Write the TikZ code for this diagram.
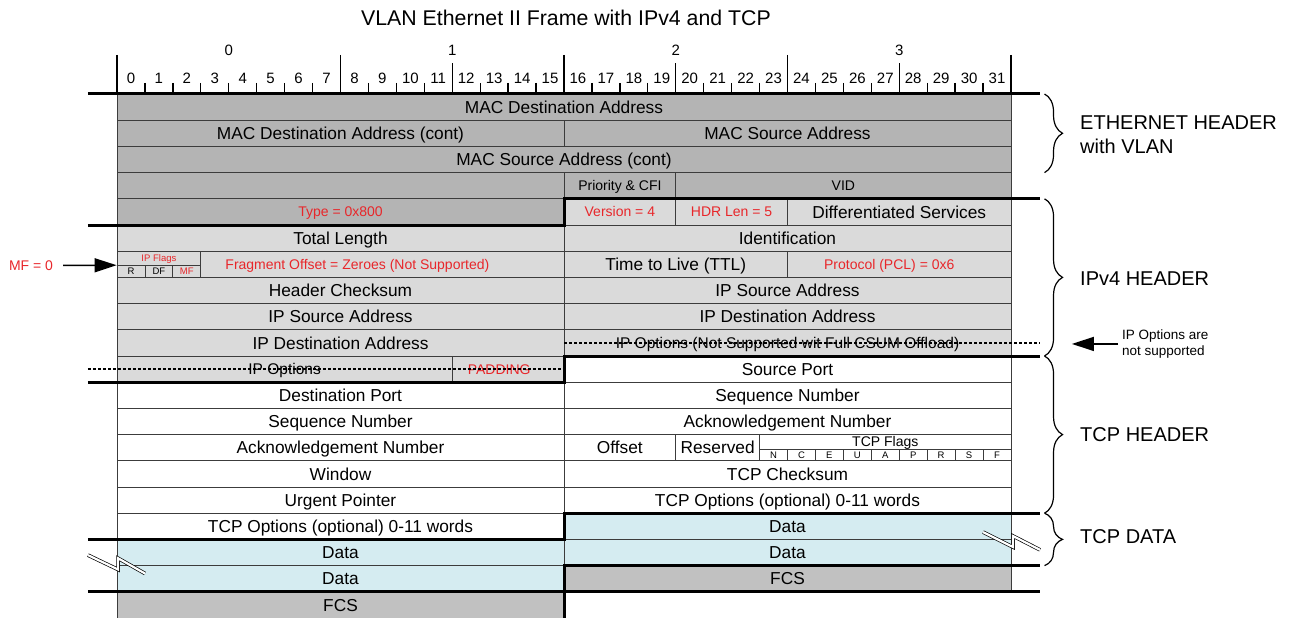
\documentclass[tikz,border=0pt]{standalone}
\usepackage{fontspec}
\setmainfont{Liberation Sans}
\usetikzlibrary{arrows.meta,decorations.pathreplacing}

\definecolor{ethgray}{RGB}{180,180,180}
\definecolor{ipgray}{RGB}{218,218,218}
\definecolor{fcsgray}{RGB}{193,193,193}
\definecolor{datablue}{RGB}{213,236,241}
\definecolor{fieldred}{RGB}{232,38,42}
\definecolor{cellline}{RGB}{60,60,60}

\tikzset{
    field/.style={draw=cellline, line width=0.8pt, rectangle, inner sep=0pt, minimum height=26.2pt, text height=12.4pt, text depth=0pt, font=\fontsize{17.3}{19}\selectfont},
    bits/.style={minimum width=#1*27.9375pt},
    eth/.style={field, fill=ethgray},
    ip/.style={field, fill=ipgray},
    tcp/.style={field, fill=white},
    data/.style={field, fill=datablue},
    fcs/.style={field, fill=fcsgray},
    midtxt/.style={font=\fontsize{15.5}{18}\selectfont, text height=11.1pt},
    smalltxt/.style={font=\fontsize{14}{16}\selectfont, text height=10pt, text depth=0pt},
    redtxt/.style={smalltxt, text=fieldred},
    flagtxt/.style={font=\fontsize{9.5}{10}\selectfont, text height=6.8pt},
    notetxt/.style={font=\fontsize{13.5}{15.5}\selectfont, align=left},
    bitnum/.style={font=\fontsize{15}{17}\selectfont, inner sep=0pt},
    tick/.style={line width=1.3pt},
    sep/.style={line width=3pt},
    opt/.style={line width=1.8pt, dash pattern=on 3pt off 2pt},
    brk/.style={draw=black, line width=0.7pt, double=white, double distance=2.2pt},
    hdrbrace/.style={decorate, decoration={brace, amplitude=18pt}, line width=1.2pt},
    sect/.style={font=\fontsize{20}{24}\selectfont, anchor=west, align=left, inner sep=0pt},
    callout/.style={line width=1.5pt, -{Triangle[length=22pt, width=14pt]}}
}

\begin{document}
\begin{tikzpicture}[x=27.9375pt, y=-26.2pt]
    \useasboundingbox (-4.1879,-3.5878) rectangle (42.1298,20);

    \node[font=\fontsize{21.3}{24}\selectfont] (title) at (16.07,-2.9) {VLAN Ethernet II Frame with IPv4 and TCP};

    \foreach \b in {0,...,31}
        \node[bitnum] (bit\b) at (\b+0.5,-0.61) {\b};
    \foreach \n in {0,...,3}
        \node[bitnum] (byte\n) at (8*\n+4,-1.68) {\n};
    \foreach \b in {1,...,31}
        \draw[tick] (\b,-0.42) -- (\b,0);
    \foreach \b in {12,20,28}
        \draw[tick] (\b,-1.18) -- (\b,0);
    \foreach \b in {0,8,16,24,32}
        \draw[tick] (\b,-1.49) -- (\b,0);

    \node[eth, bits=32] (macdst) at (16,0.5) {MAC Destination Address};
    \node[eth, bits=16] (macdstc) at (8,1.5) {MAC Destination Address (cont)};
    \node[eth, bits=16] (macsrc) at (24,1.5) {MAC Source Address};
    \node[eth, bits=32] (macsrcc) at (16,2.5) {MAC Source Address (cont)};
    \node[eth, bits=16] (tpid) at (8,3.5) {};
    \node[eth, bits=4, smalltxt] (prio) at (18,3.5) {Priority \& CFI};
    \node[eth, bits=12, smalltxt] (vid) at (26,3.5) {VID};
    \node[eth, bits=16, redtxt] (type) at (8,4.5) {Type = 0x800};

    \node[ip, bits=4, redtxt] (version) at (18,4.5) {Version = 4};
    \node[ip, bits=4, redtxt] (hdrlen) at (22,4.5) {HDR Len = 5};
    \node[ip, bits=8] (diffserv) at (28,4.5) {Differentiated Services};
    \node[ip, bits=16] (totlen) at (8,5.5) {Total Length};
    \node[ip, bits=16] (ident) at (24,5.5) {Identification};
    \node[ip, bits=3, minimum height=14.4pt, flagtxt, text=fieldred] (ipflags) at (1.5,6.275) {IP Flags};
    \node[ip, bits=1, minimum height=11.8pt, flagtxt] (flagr) at (0.5,6.775) {R};
    \node[ip, bits=1, minimum height=11.8pt, flagtxt] (flagdf) at (1.5,6.775) {DF};
    \node[ip, bits=1, minimum height=11.8pt, flagtxt, text=fieldred] (flagmf) at (2.5,6.775) {MF};
    \node[ip, bits=13, redtxt] (fragoff) at (9.5,6.5) {Fragment Offset = Zeroes (Not Supported)\hspace*{50pt}};
    \node[ip, bits=8] (ttl) at (20,6.5) {Time to Live (TTL)};
    \node[ip, bits=8, redtxt] (proto) at (28,6.5) {Protocol (PCL) = 0x6\hspace*{20pt}};
    \node[ip, bits=16] (hdrcsum) at (8,7.5) {Header Checksum};
    \node[ip, bits=16] (srcip) at (24,7.5) {IP Source Address};
    \node[ip, bits=16] (srcipc) at (8,8.5) {IP Source Address};
    \node[ip, bits=16] (dstip) at (24,8.5) {IP Destination Address};
    \node[ip, bits=16] (dstipc) at (8,9.5) {IP Destination Address};
    \node[ip, bits=16, midtxt] (ipoptr) at (24,9.5) {IP Options (Not Supported wit Full CSUM Offload)};
    \node[ip, bits=12, midtxt] (ipopt) at (6,10.5) {IP Options};
    \node[ip, bits=4, redtxt] (padding) at (14,10.5) {PADDING\hspace*{18pt}};

    \node[tcp, bits=16] (srcport) at (24,10.5) {Source Port};
    \node[tcp, bits=16] (dstport) at (8,11.5) {Destination Port};
    \node[tcp, bits=16] (seq) at (24,11.5) {Sequence Number};
    \node[tcp, bits=16] (seqc) at (8,12.5) {Sequence Number};
    \node[tcp, bits=16] (ack) at (24,12.5) {Acknowledgement Number};
    \node[tcp, bits=16] (ackc) at (8,13.5) {Acknowledgement Number};
    \node[tcp, bits=4] (offset) at (18,13.5) {Offset};
    \node[tcp, bits=3] (resv) at (21.5,13.5) {Reserved};
    \node[tcp, bits=9, minimum height=14.4pt, smalltxt] (tcpflags) at (27.5,13.275) {TCP Flags};
    \foreach \f [count=\i from 0] in {N,C,E,U,A,P,R,S,F}
        \node[tcp, bits=1, minimum height=11.8pt, flagtxt] (flag\f) at (23.5+\i,13.775) {\f};
    \node[tcp, bits=16] (window) at (8,14.5) {Window};
    \node[tcp, bits=16] (tcpcsum) at (24,14.5) {TCP Checksum};
    \node[tcp, bits=16] (urgptr) at (8,15.5) {Urgent Pointer};
    \node[tcp, bits=16] (tcpopt) at (24,15.5) {TCP Options (optional) 0-11 words};
    \node[tcp, bits=16] (tcpoptc) at (8,16.5) {TCP Options (optional) 0-11 words};

    \node[data, bits=16] (data1) at (24,16.5) {Data};
    \node[data, bits=16] (data2) at (8,17.5) {Data};
    \node[data, bits=16] (data3) at (24,17.5) {Data};
    \node[data, bits=16] (data4) at (8,18.5) {Data};
    \node[fcs, bits=16] (fcs) at (24,18.5) {FCS};
    \node[fcs, bits=16] (fcsc) at (8,19.5) {FCS};

    \draw[sep] (-1.04,0) -- (33.04,0);
    \draw[sep] (-1.04,5) -- (16,5) -- (16,4) -- (33.04,4);
    \draw[sep] (-1.04,11) -- (16,11) -- (16,10) -- (33.04,10);
    \draw[sep] (-1.04,17) -- (16,17) -- (16,16) -- (33.04,16);
    \draw[sep] (-1.04,19) -- (16,19) -- (16,18) -- (33.04,18);
    \draw[sep] (16,19) -- (33.04,19);
    \draw[sep] (16,19) -- (16,20);

    \draw[opt] (-1.04,10.5) -- (16,10.5);
    \draw[opt] (16,9.5) -- (33.04,9.5);

    \draw[brk] (-1.04,17.6) -- (0.04,18.15) -- (0.04,17.72) -- (1.0,18.3);
    \draw[brk] (31.0,16.72) -- (32.07,17.29) -- (32.07,16.87) -- (33.04,17.4);

    \draw[hdrbrace] (33.2,0) -- (33.2,3);
    \draw[hdrbrace] (33.2,4) -- (33.2,10);
    \draw[hdrbrace] (33.2,10) -- (33.2,16);
    \draw[hdrbrace] (33.2,16) -- (33.2,18);
    \node[sect] (ethlbl) at (34.47,1.55) {ETHERNET HEADER\\with VLAN};
    \node[sect] (iplbl) at (34.47,7.06) {IPv4 HEADER};
    \node[sect] (tcplbl) at (34.47,13.0) {TCP HEADER};
    \node[sect] (datalbl) at (34.47,16.9) {TCP DATA};

    \node[redtxt, inner xsep=10pt] (mfnote) at (-3.078,6.55) {MF = 0};
    \draw[callout] (mfnote) -- (flagr.north west);

    \node[notetxt, anchor=west, inner xsep=4pt] (optnote) at (35.83,9.54) {IP Options are\\not supported};
    \coordinate (optin) at (34.18,9.54);
    \draw[callout] (optnote) -- (optin);
\end{tikzpicture}
\end{document}
